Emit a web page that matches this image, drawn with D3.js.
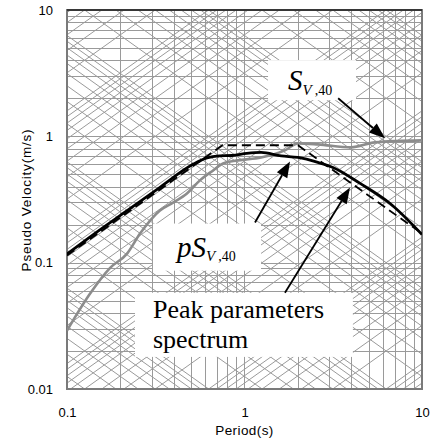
<!DOCTYPE html>
<html>
<head>
<meta charset="utf-8">
<script src="https://cdn.jsdelivr.net/npm/d3@7"></script>
<style>
  body { margin: 0; background: #fff; }
  .axis text { font-family: "Liberation Sans", Arial, sans-serif; font-size: 13px; fill: #000; }
  .lbl { font-family: "Liberation Sans", Arial, sans-serif; font-size: 13.5px; fill: #000; }
  .ann { font-family: "Liberation Serif", "Times New Roman", serif; fill: #000; }
</style>
</head>
<body>
<svg id="chart" width="438" height="441"></svg>
<script>
// measured spectrum S_V,40 (gray)
var grayT = [0.1, 0.135, 0.175, 0.218, 0.258, 0.334, 0.396, 0.474, 0.561, 0.665, 0.757, 0.919, 1.24, 1.69, 2.0, 2.59, 3.98, 5.43, 10];
var grayV = [0.029, 0.057, 0.091, 0.118, 0.170, 0.259, 0.299, 0.353, 0.448, 0.537, 0.611, 0.645, 0.681, 0.774, 0.88, 0.864, 0.818, 0.896, 0.929];

// pS_V,40 (black)
var blackT = [0.1, 0.14, 0.218, 0.334, 0.513, 0.615, 0.72, 0.85, 1.03, 1.24, 1.61, 2.0, 2.59, 3.15, 4.48, 6.61, 10];
var blackV = [0.117, 0.166, 0.258, 0.395, 0.60, 0.675, 0.70, 0.705, 0.733, 0.746, 0.70, 0.681, 0.622, 0.567, 0.424, 0.294, 0.167];

// peak parameters spectrum (dashed)
var peakT = [0.1, 0.75, 2.0, 10];
var peakV = [0.114, 0.85, 0.85, 0.17];

var xTickLabels = [0.1, 1, 10];
var yTickLabels = [0.01, 0.1, 1, 10];
var mantissas = [1, 2, 3, 4, 5, 6, 7, 8, 9];

var svg = d3.select("#chart");
var pLeft = 67, pRight = 422, pTop = 10, pBottom = 389;

var x = d3.scaleLog().domain([0.1, 10]).range([pLeft, pRight]);
var y = d3.scaleLog().domain([0.01, 10]).range([pBottom, pTop]);

svg.append("clipPath").attr("id", "plot")
  .append("rect")
    .attr("x", pLeft).attr("y", pTop)
    .attr("width", pRight - pLeft).attr("height", pBottom - pTop);

var grid = svg.append("g").attr("clip-path", "url(#plot)")
    .attr("stroke", "#9a9a9a").attr("stroke-width", 1).attr("fill", "none");

// vertical / horizontal grid
grid.selectAll(".vg").data(x.ticks()).enter().append("line")
    .attr("x1", function(d) { return Math.round(x(d)) + 0.5; })
    .attr("x2", function(d) { return Math.round(x(d)) + 0.5; })
    .attr("y1", pTop).attr("y2", pBottom);
grid.selectAll(".hg").data(y.ticks()).enter().append("line")
    .attr("y1", function(d) { return Math.round(y(d)) + 0.5; })
    .attr("y2", function(d) { return Math.round(y(d)) + 0.5; })
    .attr("x1", pLeft).attr("x2", pRight);

// diagonal lines: constant displacement and constant acceleration
var dispVals = [], accVals = [];
for (var k = -6; k <= 3; k++) {
  mantissas.forEach(function(m) {
    dispVals.push(m * Math.pow(10, k));
    accVals.push(m * Math.pow(10, k));
  });
}
var twoPi = 2 * Math.PI;
grid.selectAll(".dg").data(dispVals).enter().append("line")
    .attr("x1", x(0.1)).attr("x2", x(10))
    .attr("y1", function(d) { return y(twoPi * d / 0.1); })
    .attr("y2", function(d) { return y(twoPi * d / 10); });
grid.selectAll(".ag").data(accVals).enter().append("line")
    .attr("x1", x(0.1)).attr("x2", x(10))
    .attr("y1", function(d) { return y(d * 0.1 / twoPi); })
    .attr("y2", function(d) { return y(d * 10 / twoPi); });

// white label boxes (T, v corners)
var boxes = [
  {t0: 1.357, t1: 4.25, v0: 4.01, v1: 1.93},
  {t0: 0.305, t1: 1.239, v0: 0.204, v1: 0.0864},
  {t0: 0.2415, t1: 4.08, v0: 0.0578, v1: 0.01795}
];
svg.selectAll(".box").data(boxes).enter().append("rect")
    .attr("fill", "#fff")
    .attr("x", function(d) { return x(d.t0); })
    .attr("y", function(d) { return y(d.v0); })
    .attr("width", function(d) { return x(d.t1) - x(d.t0); })
    .attr("height", function(d) { return y(d.v1) - y(d.v0); });

// frame
svg.append("rect")
    .attr("x", pLeft).attr("y", pTop)
    .attr("width", pRight - pLeft).attr("height", pBottom - pTop)
    .attr("fill", "none").attr("stroke", "#7a7a7a").attr("stroke-width", 2);
svg.append("line")
    .attr("x1", pLeft).attr("x2", pRight).attr("y1", pTop).attr("y2", pTop)
    .attr("stroke", "#222").attr("stroke-width", 1.5);

// curves
function series(ts, vs) {
  return ts.map(function(t, i) { return [t, vs[i]]; });
}
var line = d3.line()
    .x(function(d) { return x(d[0]); })
    .y(function(d) { return y(d[1]); })
    .curve(d3.curveMonotoneX);
var curves = svg.append("g").attr("clip-path", "url(#plot)").attr("fill", "none");
curves.append("path").datum(series(grayT, grayV))
    .attr("stroke", "#8c8c8c").attr("stroke-width", 2.6).attr("d", line);
curves.append("path").datum(series(peakT, peakV))
    .attr("stroke", "#000").attr("stroke-width", 1.8)
    .attr("stroke-dasharray", "9,5")
    .attr("d", d3.line().x(function(d) { return x(d[0]); }).y(function(d) { return y(d[1]); }));
curves.append("path").datum(series(blackT, blackV))
    .attr("stroke", "#000").attr("stroke-width", 2.8).attr("d", line);

// arrows (T, v from -> to)
var arrows = [
  {t0: 3.37, v0: 2.0, t1: 6.19, v1: 0.964},
  {t0: 1.146, v0: 0.2077, t1: 1.805, v1: 0.633},
  {t0: 1.69, v0: 0.0578, t1: 3.93, v1: 0.394}
];
arrows.forEach(function(a) {
  var x0 = x(a.t0), y0 = y(a.v0), x1 = x(a.t1), y1 = y(a.v1);
  var ang = Math.atan2(y1 - y0, x1 - x0);
  var len = 16, hw = 6;
  var bx = x1 - len * Math.cos(ang), by = y1 - len * Math.sin(ang);
  svg.append("line")
      .attr("x1", x0).attr("y1", y0).attr("x2", bx).attr("y2", by)
      .attr("stroke", "#000").attr("stroke-width", 1.8);
  svg.append("path")
      .attr("d", "M" + x1 + "," + y1 +
                 "L" + (bx + hw * Math.sin(ang)) + "," + (by - hw * Math.cos(ang)) +
                 "L" + (bx - hw * Math.sin(ang)) + "," + (by + hw * Math.cos(ang)) + "Z")
      .attr("fill", "#000");
});

// annotation texts
var t1 = svg.append("text").attr("class", "ann")
    .attr("x", x(boxes[0].t0) + 20).attr("y", y(boxes[0].v0) + 30);
t1.append("tspan").attr("font-style", "italic").attr("font-size", 29).text("S");
t1.append("tspan").attr("font-style", "italic").attr("font-size", 15).attr("dy", 5).attr("dx", 0).text("V");
t1.append("tspan").attr("font-size", 14).attr("dx", 3).text(",40");

var t2 = svg.append("text").attr("class", "ann")
    .attr("x", x(boxes[1].t0) + 24).attr("y", y(boxes[1].v0) + 33);
t2.append("tspan").attr("font-style", "italic").attr("font-size", 29).text("pS");
t2.append("tspan").attr("font-style", "italic").attr("font-size", 15).attr("dy", 4).text("V");
t2.append("tspan").attr("font-size", 14).attr("dx", 3).text(",40");

svg.append("text").attr("class", "ann").attr("font-size", 26)
    .attr("x", x(boxes[2].t0) + 18).attr("y", y(boxes[2].v0) + 25)
    .text("Peak parameters");
svg.append("text").attr("class", "ann").attr("font-size", 26)
    .attr("x", x(boxes[2].t0) + 18).attr("y", y(boxes[2].v0) + 55)
    .text("spectrum");

// axes
var xAxis = svg.append("g").attr("class", "axis")
    .attr("transform", "translate(0," + pBottom + ")")
    .call(d3.axisBottom(x).tickValues(xTickLabels).tickSize(0).tickPadding(19)
      .tickFormat(function(d) { return String(d); }));
xAxis.select(".domain").remove();

var yAxis = svg.append("g").attr("class", "axis")
    .attr("transform", "translate(" + pLeft + ",0)")
    .call(d3.axisLeft(y).tickValues(yTickLabels).tickSize(0).tickPadding(14)
      .tickFormat(function(d) { return String(d); }));
yAxis.select(".domain").remove();

svg.append("text").attr("class", "lbl")
    .attr("text-anchor", "middle")
    .attr("letter-spacing", 0.4)
    .attr("x", (pLeft + pRight) / 2).attr("y", 435)
    .text("Period(s)");
svg.append("text").attr("class", "lbl")
    .attr("text-anchor", "middle")
    .attr("letter-spacing", 0.8)
    .attr("transform", "translate(31,200) rotate(-90)")
    .text("Pseudo Velocity(m/s)");
</script>
</body>
</html>
